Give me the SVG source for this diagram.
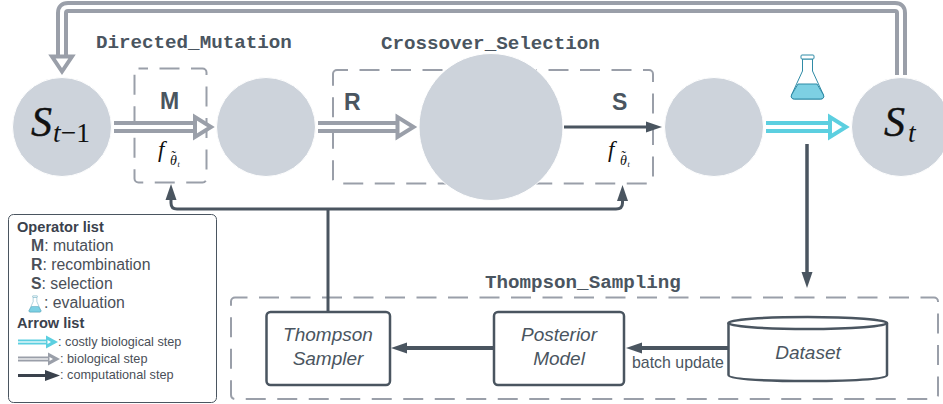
<svg xmlns="http://www.w3.org/2000/svg" width="943" height="404" viewBox="0 0 943 404">
<style>
text{font-family:"Liberation Sans",Arial,sans-serif;fill:#4a5560}
.title{font-family:"Liberation Mono",monospace;font-weight:bold;font-size:19.2px}
.op{font-weight:bold;font-size:23px}
.node-label{font-style:italic;font-size:19px;text-anchor:middle}
.math{font-family:"Liberation Serif",serif;font-style:italic;fill:#111}
.state{fill:#cdd3db;stroke:#fff;stroke-width:1}
.dash{fill:none;stroke:#9a9fa9;stroke-width:2;stroke-dasharray:20 11.5}
.box{fill:#fff;stroke:#4a5560;stroke-width:2.5}
.dark{fill:none;stroke:#4a5560;stroke-width:4;marker-end:url(#dh)}
.fb{fill:none;stroke:#4a5560;stroke-width:3;stroke-linejoin:round}
.head{fill:#fff;stroke-width:4;stroke-linejoin:miter}
.gout{fill:none;stroke:#9a9fa9;stroke-width:12}
.gin{fill:none;stroke:#fff;stroke-width:4}
.tout{fill:none;stroke:#5ccfe0;stroke-width:12}
.leg{font-size:15.8px;fill:#4a4f58}
.legb{font-size:14.6px;font-weight:bold;fill:#3a414c}
.legs{font-size:12.7px;fill:#4a4f58}
.flask-g{fill:#7dd0e3;stroke:#2f8ba6;stroke-linejoin:round}
.flask-o{fill:#fff;stroke:#2f8ba6;stroke-linejoin:round}
</style>
<defs>
<marker id="dh" markerUnits="userSpaceOnUse" markerWidth="16" markerHeight="12" refX="0" refY="6" orient="auto"><path d="M0 0.500L16 6L0 11.500Z" fill="#4a5560"/></marker>
<g id="flask"><path class="flask-o" d="M-5 2V14L-16 38Q-17 42 -13 42H13Q17 42 16 38L5 14V2Z"/><path class="flask-g" stroke="none" d="M-9.500 27H9.500L16 38Q17 42 13 42H-13Q-17 42 -16 38Z"/><rect class="flask-o" x="-6.500" y="-2" width="13" height="4" rx="1"/></g>
</defs>

<g id="groups">
<rect id="box-mutation" class="dash" x="134.500" y="68.500" width="72" height="114" rx="4" style="stroke-dashoffset:10.500"/>
<rect id="box-crossover" class="dash" x="333" y="70" width="320" height="113.500" rx="4" style="stroke-dashoffset:9"/>
<rect id="box-thompson" class="dash" x="231" y="297.500" width="707" height="101.500" rx="4" style="stroke-dashoffset:7.500"/>
<text class="title" x="96" y="48">Directed_Mutation</text>
<text class="title" x="381" y="49">Crossover_Selection</text>
<text class="title" x="485" y="288">Thompson_Sampling</text>
</g>

<g id="connectors">
<path class="gout" d="M901 75V13Q901 7 895 7H68Q62 7 62 13V56"/>
<path class="gin" d="M901 75V13Q901 7 895 7H68Q62 7 62 13V58"/>
<path class="head" stroke="#9a9fa9" d="M52 56.500H72L62 71.500Z"/>
<path class="gout" d="M114 127H195"/><path class="gin" d="M114 127H197"/>
<path class="head" stroke="#9a9fa9" d="M195 117V137L211 127Z"/>
<path class="gout" d="M318 127H397"/><path class="gin" d="M318 127H399"/>
<path class="head" stroke="#9a9fa9" d="M397.500 117V137L413.500 127Z"/>
<path class="tout" d="M766 127H830"/><path class="gin" d="M766 127H832"/>
<path class="head" stroke="#5ccfe0" d="M830 117V137L846 127Z"/>
<path class="dark" style="stroke-width:3" d="M564 127H646"/>
<path class="fb" d="M328 312V209"/>
<path class="fb" d="M328 209H177Q171 209 171 203V199"/>
<path fill="#4a5560" d="M165.500 200L171 184L176.500 200Z"/>
<path class="fb" d="M328 209H616Q622.500 209 622.500 203V200"/>
<path fill="#4a5560" d="M617 201L622.500 185L628 201Z"/>
<path class="dark" style="stroke-width:3.500" d="M807 144V272"/>
<path class="dark" d="M494 348H407"/>
<path class="dark" d="M728 348H642"/>
</g>
<text x="632" y="368" style="font-size:15.900px">batch update</text>

<g id="node-s-prev"><circle class="state" cx="62" cy="127" r="49.500"/>
<text class="math" x="31" y="136" stroke="#111" stroke-width=".4" style="font-size:42px">S</text><text class="math" x="53" y="142" style="font-size:27.500px">t<tspan font-style="normal">−1</tspan></text></g>
<g id="node-s-mut"><circle class="state" cx="266" cy="127" r="49.500"/></g>
<g id="node-s-cross"><ellipse class="state" cx="491" cy="127" rx="72" ry="73.500"/></g>
<g id="node-s-sel"><circle class="state" cx="714" cy="127" r="49.500"/></g>
<g id="node-s-t"><circle class="state" cx="901" cy="127" r="49.500"/>
<text class="math" x="884" y="136" stroke="#111" stroke-width=".4" style="font-size:42px">S</text><text class="math" x="908" y="142" style="font-size:27.500px">t</text></g>

<g id="labels">
<text class="op" x="160" y="109">M</text>
<text class="op" x="344" y="110">R</text>
<text class="op" x="612" y="110">S</text>
<g id="f-mut"><text class="math" x="158" y="157" style="font-size:23px">f</text><text class="math" x="170" y="165" style="font-size:14px">θ</text><text class="math" x="170.500" y="161" style="font-size:14px">˜</text><text class="math" x="177.500" y="167" style="font-size:8px">t</text></g>
<g id="f-sel"><text class="math" x="608" y="157" style="font-size:23px">f</text><text class="math" x="620" y="165" style="font-size:14px">θ</text><text class="math" x="620.500" y="161" style="font-size:14px">˜</text><text class="math" x="627.500" y="167" style="font-size:8px">t</text></g>
</g>

<use id="flask-main" href="#flask" x="807.500" y="57"/>

<g id="node-sampler"><rect class="box" x="266.500" y="312" width="123.500" height="73" rx="4"/>
<text class="node-label" x="328" y="341">Thompson</text><text class="node-label" x="328" y="365">Sampler</text></g>
<g id="node-posterior"><rect class="box" x="494" y="312" width="130" height="73" rx="4"/>
<text class="node-label" x="559" y="341">Posterior</text><text class="node-label" x="559" y="365">Model</text></g>
<g id="node-dataset"><path class="box" d="M728.500 323V375Q728.500 381 807.500 381Q887 381 887 375V323"/>
<ellipse class="box" cx="807.700" cy="323" rx="79.300" ry="6"/>
<text class="node-label" x="808" y="359">Dataset</text></g>

<g id="legend">
<rect x="8.500" y="214.500" width="208" height="188" rx="5" fill="#fff" stroke="#4a5560" stroke-width="1"/>
<text class="legb" x="17" y="232">Operator list</text>
<text class="leg" x="31" y="251"><tspan font-weight="bold">M</tspan>: mutation</text>
<text class="leg" x="31" y="270"><tspan font-weight="bold">R</tspan>: recombination</text>
<text class="leg" x="31" y="289"><tspan font-weight="bold">S</tspan>: selection</text>
<use href="#flask" transform="translate(35 296.500) scale(.37)"/>
<text class="leg" x="44" y="308">: evaluation</text>
<text class="legb" x="17" y="328">Arrow list</text>
<path d="M18 342H50" fill="none" stroke="#5ccfe0" stroke-width="5"/><path d="M18 342H50" stroke="#fff" stroke-width="1.200"/>
<path d="M46 335.500L58 342L46 348.500Z" fill="#5ccfe0"/><path d="M47.500 340V344L51 342Z" fill="#fff"/>
<text class="legs" x="58" y="346">: costly biological step</text>
<path d="M18 359H50" fill="none" stroke="#9a9fa9" stroke-width="5"/><path d="M18 359H50" stroke="#fff" stroke-width="1.200"/>
<path d="M48 352.500L60 359L48 365.500Z" fill="#9a9fa9"/><path d="M49.500 357V361L53 359Z" fill="#fff"/>
<text class="legs" x="60" y="363">: biological step</text>
<path d="M18 375.500H48" fill="none" stroke="#3a414c" stroke-width="3"/>
<path d="M45 370L60 375.500L45 381Z" fill="#3a414c"/>
<text class="legs" x="60" y="379">: computational step</text>
</g>
</svg>
